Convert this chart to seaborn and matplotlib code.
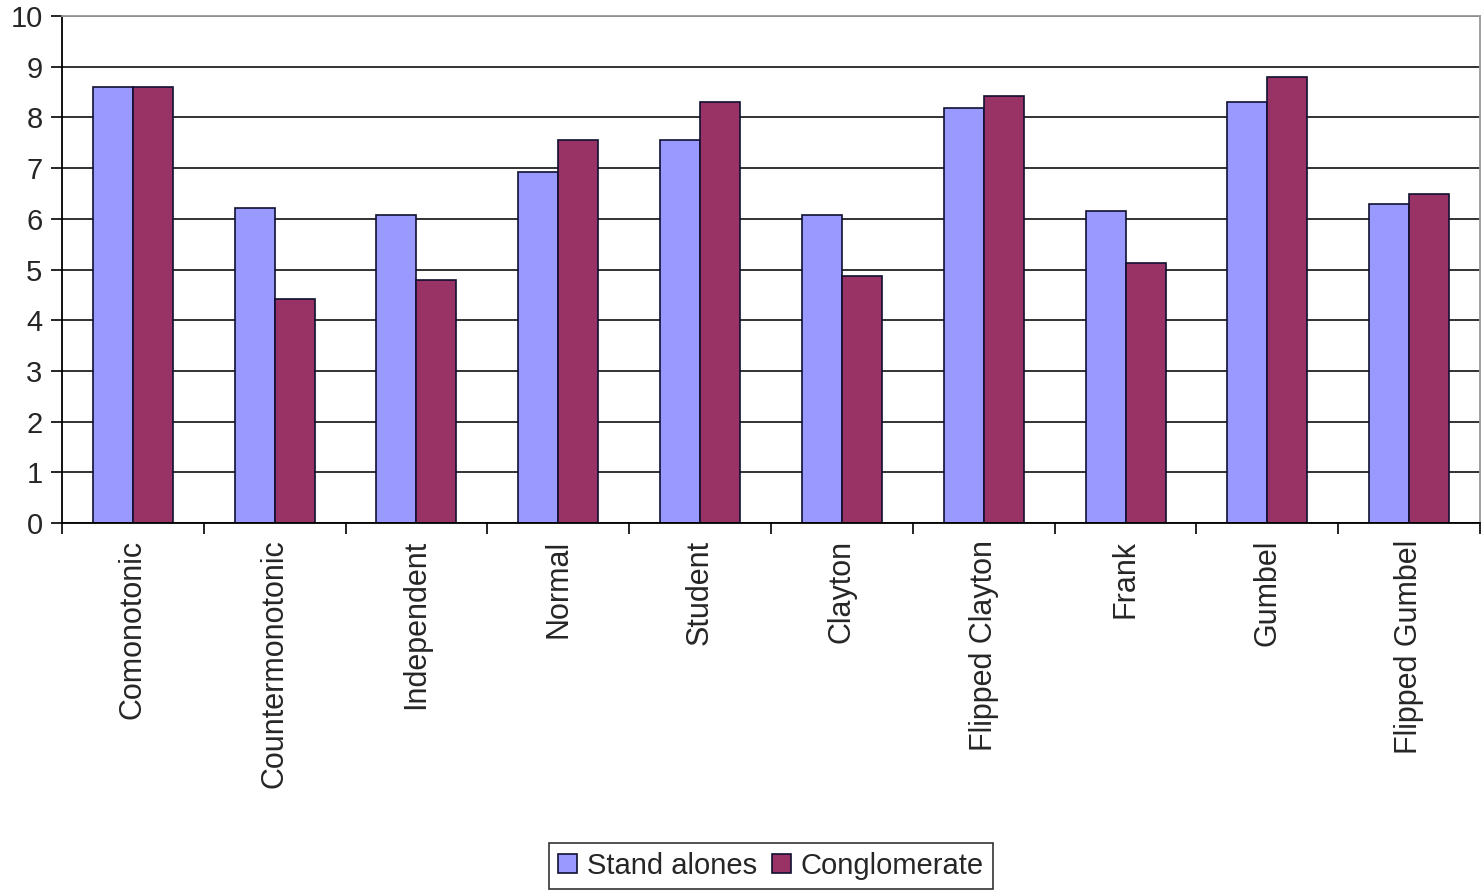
import numpy as np
import pandas as pd
import matplotlib
matplotlib.use("Agg")
import matplotlib.pyplot as plt
import seaborn as sns
from matplotlib.ticker import FixedLocator

copulas = ["Comonotonic", "Countermonotonic", "Independent", "Normal", "Student",
           "Clayton", "Flipped Clayton", "Frank", "Gumbel", "Flipped Gumbel"]
stand_alones = [8.61, 6.21, 6.08, 6.92, 7.56, 6.07, 8.18, 6.15, 8.30, 6.30]
conglomerate = [8.61, 4.42, 4.79, 7.56, 8.30, 4.87, 8.43, 5.12, 8.80, 6.49]
series_names = ["Stand alones", "Conglomerate"]
colors = ["#9999FF", "#993366"]

df = pd.DataFrame({
    "copula": copulas * 2,
    "value": stand_alones + conglomerate,
    "series": [series_names[0]] * len(copulas) + [series_names[1]] * len(copulas),
})

sns.set_style("white")
plt.rcParams["font.family"] = ["Liberation Sans", "DejaVu Sans"]

fig = plt.figure(figsize=(14.82, 8.91), dpi=100)
ax = fig.add_axes([0.0418, 0.413, 0.9569, 0.569])

sns.barplot(data=df, x="copula", y="value", hue="series", order=copulas,
            hue_order=series_names, palette=colors, width=0.564, gap=0,
            edgecolor="#101030", linewidth=1.2, saturation=1, ax=ax, legend=True)

ax.set_xlim(-0.5, len(copulas) - 0.5)
ax.set_ylim(0, 10)
ax.set_yticks(range(0, 11))
ax.yaxis.grid(True, color="#222222", linewidth=1.3)
ax.set_axisbelow(True)
ax.set_xlabel("")
ax.set_ylabel("")

for side in ["top", "right"]:
    ax.spines[side].set_color("#999999")
    ax.spines[side].set_linewidth(1.3)
for side in ["left", "bottom"]:
    ax.spines[side].set_color("black")
    ax.spines[side].set_linewidth(1.3)

ax.tick_params(axis="y", which="major", length=8, width=1.2, color="black",
               direction="out", left=True, labelsize=21, pad=6)
ax.tick_params(axis="x", which="major", length=0, labelsize=22, pad=12)
ax.xaxis.set_minor_locator(FixedLocator(np.arange(-0.5, len(copulas), 1.0)))
ax.tick_params(axis="x", which="minor", length=8, width=1.2, color="black",
               direction="out", bottom=True)
plt.setp(ax.get_xticklabels(), rotation=90, va="top", ha="center")

handles, labels = ax.get_legend_handles_labels()
ax.legend(handles, labels, loc="lower center", bbox_to_anchor=(0.5, -0.75),
          ncol=2, frameon=True, fontsize=21, handlelength=0.65, handleheight=0.65,
          handletextpad=0.35, columnspacing=0.5, borderpad=0.3,
          fancybox=False, edgecolor="black")
ax.get_legend().get_frame().set_linewidth(1.2)

fig.savefig("out.png", dpi=100, facecolor="white")
